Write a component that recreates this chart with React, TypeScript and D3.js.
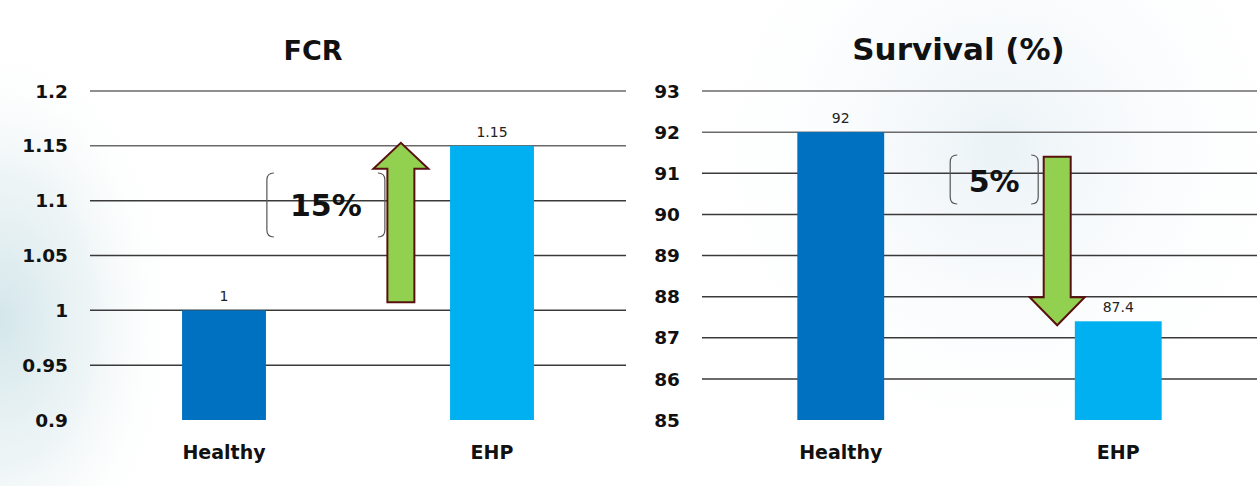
import React from "react";
import * as d3 from "d3";

const categories = ["Healthy", "EHP"];
const fcrValues = [1, 1.15];
const fcrTicks = [0.9, 0.95, 1, 1.05, 1.1, 1.15, 1.2];
const fcrTickLabels = ["0.9", "0.95", "1", "1.05", "1.1", "1.15", "1.2"];
const survivalValues = [92, 87.4];
const survivalTicks = [85, 86, 87, 88, 89, 90, 91, 92, 93];
const barColors = ["#0070C0", "#00B0F0"];
const titles = ["FCR", "Survival (%)"];
const changeLabels = ["15%", "5%"];

const FONT = "'DejaVu Sans', sans-serif";

function bracket(x0: number, x1: number, y0: number, y1: number) {
  const r = 7;
  const left = `M${x0 + r},${y0} Q${x0},${y0} ${x0},${y0 + r} L${x0},${y1 - r} Q${x0},${y1} ${x0 + r},${y1}`;
  const right = `M${x1 - r},${y0} Q${x1},${y0} ${x1},${y0 + r} L${x1},${y1 - r} Q${x1},${y1} ${x1 - r},${y1}`;
  return left + " " + right;
}

function arrowPath(cx: number, shaftW: number, headW: number, tailY: number, headBaseY: number, tipY: number) {
  const s = shaftW / 2;
  const h = headW / 2;
  return `M${cx - s},${tailY} L${cx - s},${headBaseY} L${cx - h},${headBaseY} L${cx},${tipY} L${cx + h},${headBaseY} L${cx + s},${headBaseY} L${cx + s},${tailY} Z`;
}

function Panel({
  x0, x1, y0, y1, domain, ticks, tickLabels, values, title, titleSize, titleY, titleDx, fmt, arrow,
}: any) {
  const x = d3.scaleBand<string>().domain(categories).range([x0, x1]).padding(0);
  const y = d3.scaleLinear().domain(domain).range([y1, y0]);
  const bw = x.bandwidth() * 0.313;
  return (
    <g>
      {ticks.map((t: number, i: number) => (
        <g key={i}>
          {i > 0 && (
            <line x1={x0} x2={x1} y1={y(t)} y2={y(t)} stroke={i > ticks.length - 3 ? "#6a6a6a" : "#3a3a3a"} strokeWidth={1.5} />
          )}
          <text x={x0 - 22} y={y(t)} dy="0.36em" textAnchor="end" fontFamily={FONT} fontWeight="bold" fontSize={18.5} fill="#111">
            {tickLabels[i]}
          </text>
        </g>
      ))}
      {categories.map((c, i) => {
        const cx = (x(c) as number) + x.bandwidth() / 2;
        return (
          <g key={c}>
            <rect x={cx - bw / 2} y={y(values[i])} width={bw} height={y(domain[0]) - y(values[i])} fill={barColors[i]} />
            <text x={cx} y={y(values[i]) - 9} textAnchor="middle" fontFamily={FONT} fontSize={14} fill="#222">
              {fmt(values[i])}
            </text>
            <text x={cx} y={y1 + 39} textAnchor="middle" fontFamily={FONT} fontWeight="bold" fontSize={19} fill="#111">
              {c}
            </text>
          </g>
        );
      })}
      <text x={(x0 + x1) / 2 + titleDx} y={titleY} textAnchor="middle" fontFamily={FONT} fontWeight="bold" fontSize={titleSize} fill="#111">
        {title}
      </text>
      {arrow(x, y)}
    </g>
  );
}

export default function App() {
  const fcrArrow = (x: any, y: any) => {
    const c0 = (x(categories[0]) as number) + x.bandwidth() / 2;
    const c1 = (x(categories[1]) as number) + x.bandwidth() / 2;
    const cx = c0 + (c1 - c0) * 0.66;
    const tip = y(fcrValues[1]) - 3;
    const tail = y(fcrValues[0]) - 8;
    const bx0 = cx - 134;
    const bx1 = cx - 16;
    return (
      <g>
        <path d={arrowPath(cx, 27, 55, tail, tip + 26, tip)} fill="#92D050" stroke="#5A1010" strokeWidth={2} strokeLinejoin="miter" />
        <path d={bracket(bx0, bx1, 173, 237)} fill="none" stroke="#555" strokeWidth={1.2} />
        <text x={(bx0 + bx1) / 2} y={205} dy="0.36em" textAnchor="middle" fontFamily={FONT} fontWeight="bold" fontSize={30} fill="#111">
          {changeLabels[0]}
        </text>
      </g>
    );
  };
  const survArrow = (x: any, y: any) => {
    const c0 = (x(categories[0]) as number) + x.bandwidth() / 2;
    const c1 = (x(categories[1]) as number) + x.bandwidth() / 2;
    const cx = c0 + (c1 - c0) * 0.78;
    const top = y(91.4);
    const tip = y(survivalValues[1]) + 4;
    const bx0 = cx - 107;
    const bx1 = cx - 19;
    return (
      <g>
        <path d={arrowPath(cx, 27, 55, top, tip - 28, tip)} fill="#92D050" stroke="#5A1010" strokeWidth={2} strokeLinejoin="miter" />
        <path d={bracket(bx0, bx1, 155, 204)} fill="none" stroke="#555" strokeWidth={1.2} />
        <text x={(bx0 + bx1) / 2} y={181} dy="0.36em" textAnchor="middle" fontFamily={FONT} fontWeight="bold" fontSize={30} fill="#111">
          {changeLabels[1]}
        </text>
      </g>
    );
  };

  return (
    <svg width={1260} height={486} style={{ position: "absolute", left: 0, top: 0 }}>
      <defs>
        <radialGradient id="bgL" gradientUnits="userSpaceOnUse" cx={0} cy={320} r={260} gradientTransform="translate(0,320) scale(0.7,1.1) translate(0,-320)">
          <stop offset="0%" stopColor="#d3e6ea" />
          <stop offset="50%" stopColor="#e6f0f2" stopOpacity="0.7" />
          <stop offset="100%" stopColor="#ffffff" stopOpacity="0" />
        </radialGradient>
        <radialGradient id="bgR" gradientUnits="userSpaceOnUse" cx={1000} cy={150} r={320}>
          <stop offset="0%" stopColor="#eaf2f6" />
          <stop offset="100%" stopColor="#ffffff" stopOpacity="0" />
        </radialGradient>
      </defs>
      <rect width={1260} height={486} fill="#ffffff" />
      <rect width={1260} height={486} fill="url(#bgR)" />
      <rect width={1260} height={486} fill="url(#bgL)" />
      <Panel
        x0={90} x1={626} y0={91} y1={420}
        domain={[0.9, 1.2]} ticks={fcrTicks} tickLabels={fcrTickLabels}
        values={fcrValues} title={titles[0]} titleSize={27} titleY={60} titleDx={-45}
        fmt={(v: number) => String(v)} arrow={fcrArrow}
      />
      <Panel
        x0={702} x1={1257} y0={91} y1={420}
        domain={[85, 93]} ticks={survivalTicks} tickLabels={survivalTicks.map(String)}
        values={survivalValues} title={titles[1]} titleSize={31} titleY={60} titleDx={-21}
        fmt={(v: number) => String(v)} arrow={survArrow}
      />
    </svg>
  );
}
